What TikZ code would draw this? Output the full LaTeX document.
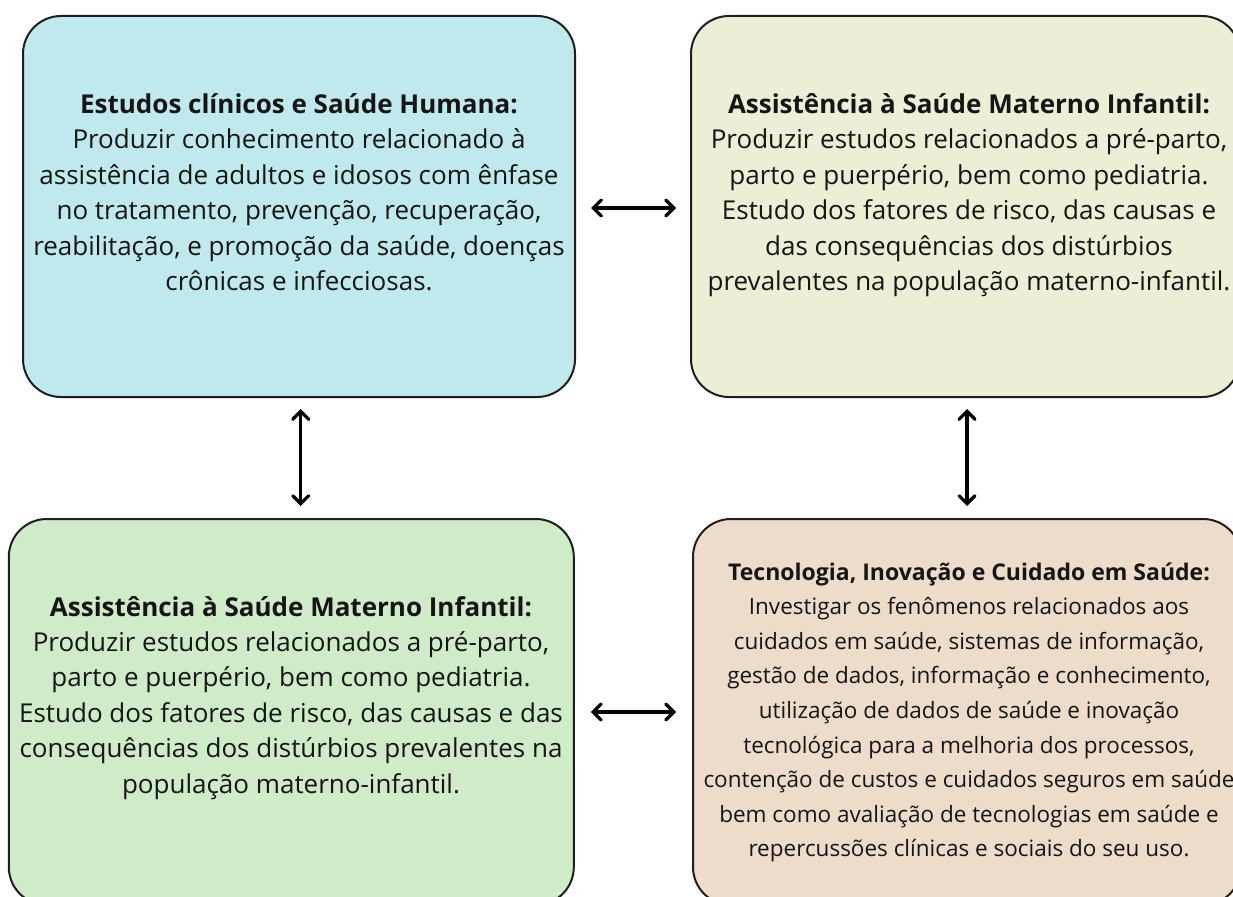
\documentclass[tikz,border=0pt]{standalone}
\usepackage{fontspec}
\setmainfont{Open Sans}
\usetikzlibrary{arrows.meta}
\definecolor{fillA}{HTML}{BFE9EC}
\definecolor{fillB}{HTML}{EEEDD6}
\definecolor{fillC}{HTML}{D0EBC7}
\definecolor{fillD}{HTML}{EEDCCA}
\definecolor{boxline}{HTML}{1E1E1E}
\definecolor{textc}{HTML}{151515}
\begin{document}
\begin{tikzpicture}[x=1pt,y=-1pt,
  box/.style={draw=boxline, line width=2pt, rounded corners=38pt, inner sep=0pt},
  txt/.style={align=center, text=textc, inner sep=0pt},
  bigtxt/.style={txt, font=\fontsize{26}{35.4}\selectfont},
  smalltxt/.style={txt, font=\fontsize{22.5}{34.6}\selectfont},
  link/.style={{Straight Barb[length=8pt,width=16pt,line cap=round]}-{Straight Barb[length=8pt,width=16pt,line cap=round]}, line width=3.3pt, draw=black}]
\useasboundingbox (0,0) rectangle (1233,896);
\fill[white] (0,0) rectangle (1233,896);

\node[box, fill=fillA, minimum width=552pt, minimum height=381pt] (b1) at (299,206.5) {};
\node[box, fill=fillB, minimum width=549pt, minimum height=381pt] (b2) at (965.5,206.5) {};
\node[box, fill=fillC, minimum width=565pt, minimum height=386pt] (b3) at (291.3,712) {};
\node[box, fill=fillD, minimum width=548pt, minimum height=386pt] (b4) at (967,712) {};

\node[bigtxt] (t1) at (299,195) {\strut\textbf{Estudos clínicos e Saúde Humana:}\\
Produzir conhecimento relacionado à\\
assistência de adultos e idosos com ênfase\\
no tratamento, prevenção, recuperação,\\
reabilitação, e promoção da saúde, doenças\\
crônicas e infecciosas.\strut};

\node[bigtxt] (t2) at (969,195) {\strut\textbf{Assistência à Saúde Materno Infantil:}\\
Produzir estudos relacionados a pré-parto,\\
parto e puerpério, bem como pediatria.\\
Estudo dos fatores de risco, das causas e\\
das consequências dos distúrbios\\
prevalentes na população materno-infantil.\strut};

\node[bigtxt] (t3) at (291,697.5) {\strut\textbf{Assistência à Saúde Materno Infantil:}\\
Produzir estudos relacionados a pré-parto,\\
parto e puerpério, bem como pediatria.\\
Estudo dos fatores de risco, das causas e das\\
consequências dos distúrbios prevalentes na\\
população materno-infantil.\strut};

\node[smalltxt] (t4) at (969,711.5) {\strut{\fontsize{23}{34.6}\selectfont\textbf{Tecnologia, Inovação e Cuidado em Saúde:}}\\
Investigar os fenômenos relacionados aos\\
cuidados em saúde, sistemas de informação,\\
gestão de dados, informação e conhecimento,\\
utilização de dados de saúde e inovação\\
tecnológica para a melhoria dos processos,\\
contenção de custos e cuidados seguros em saúde\\
bem como avaliação de tecnologias em saúde e\\
repercussões clínicas e sociais do seu uso.\strut};

\draw[link, shorten <=15pt, shorten >=14pt] (b1.east |- 0,208) -- (b2.west |- 0,208);
\draw[link, shorten <=16pt, shorten >=16pt] (b3.east) -- (b4.west);
\draw[link, shorten <=11pt, shorten >=12pt] (b1.south -| 300.7,0) -- (b3.north -| 300.7,0);
\draw[link, shorten <=11pt, shorten >=12pt] (b2.south -| 967,0) -- (b4.north -| 967,0);
\end{tikzpicture}
\end{document}
